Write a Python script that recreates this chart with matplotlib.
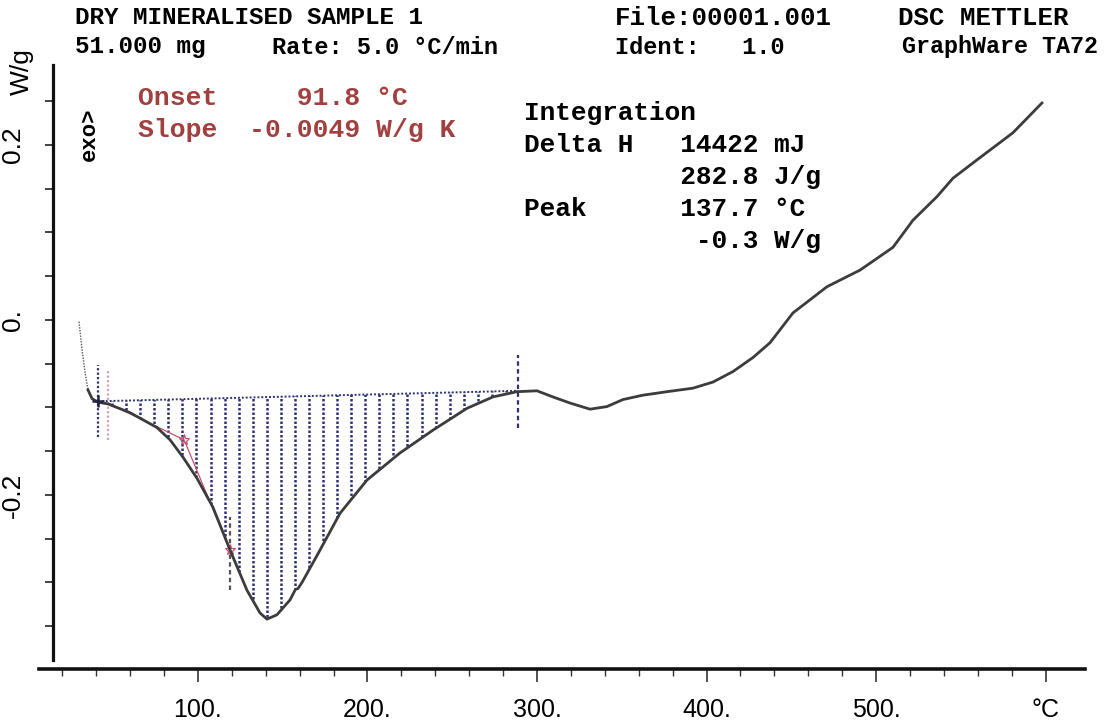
import numpy as np
import matplotlib
matplotlib.use("Agg")
import matplotlib.pyplot as plt
from matplotlib import font_manager
from matplotlib.patches import Polygon

# DSC trace: temperature (degC) vs heat flow (W/g)
lead_temp = [29.8, 31.6, 33.3, 35.1]
lead_flow = [-0.002, -0.034, -0.059, -0.080]

temp = [35.1, 37.5, 41.0, 46.9, 59.9, 75.8, 83.5, 91.2, 99.4, 108.8, 118.9,
        128.9, 136.6, 140.7, 146.6, 154.3, 157.5, 159.0, 161.4, 172.0, 183.8,
        199.7, 219.2, 238.6, 258.7, 274.0, 288.2, 300.0, 309.4, 319.5, 331.3,
        341.3, 350.7, 362.5, 376.7, 392.0, 403.8, 415.6, 427.4, 437.5, 451.0,
        471.1, 490.6, 510.0, 521.8, 536.0, 545.4, 559.6, 580.8, 597.9]
flow = [-0.080, -0.090, -0.094, -0.096, -0.106, -0.123, -0.137, -0.157, -0.181,
        -0.214, -0.263, -0.309, -0.335, -0.342, -0.337, -0.320, -0.308, -0.307,
        -0.300, -0.263, -0.221, -0.183, -0.152, -0.126, -0.101, -0.088, -0.082,
        -0.081, -0.088, -0.095, -0.102, -0.099, -0.091, -0.086, -0.082, -0.078,
        -0.071, -0.059, -0.043, -0.026, 0.008, 0.038, 0.057, 0.083, 0.114,
        0.141, 0.162, 0.183, 0.214, 0.248]

# integration baseline (start / end of peak)
base_temp = [41.0, 288.2]
base_flow = [-0.093, -0.081]

# onset construction (tangent points)
onset_temp = [46.9, 91.8, 118.9]
onset_flow = [-0.095, -0.137, -0.263]

# short vertical limit marks: (temp, bottom, top, colour, style)
limit_marks = [
    (41.0, -0.134, -0.051, "#2c3372", (0, (1, 1))),
    (46.9, -0.137, -0.057, "#d9a0b0", (0, (1, 1))),
    (118.9, -0.309, -0.225, "#555555", (0, (2, 1.5))),
    (288.8, -0.123, -0.040, "#2c3372", (0, (2, 1.5))),
]

xtick_pos = [100, 200, 300, 400, 500, 600]
xtick_labels = ["100.", "200.", "300.", "400.", "500.", "°C"]
ytick_pos = [-0.2, 0.0, 0.2]
ytick_labels = ["-0.2", "0.", "0.2"]

W, H = 1104, 725
NAVY = "#2c3372"
RED = "#a0413f"

names = {f.name for f in font_manager.fontManager.ttflist}
narrow = "Liberation Sans Narrow" if "Liberation Sans Narrow" in names else "Liberation Sans"
mono = "Liberation Mono"

fig = plt.figure(figsize=(W / 100, H / 100), dpi=100)
ax = fig.add_axes([39 / W, (H - 669) / H, (1085 - 39) / W, (669 - 57.5) / H])
ax.set_xlim(6.2, 623.3)
ax.set_ylim(-0.399, 0.30)

# hatched integration area
seg = [(t, f) for t, f in zip(temp, flow) if base_temp[0] <= t <= base_temp[1]]
poly_pts = seg + [(base_temp[1], base_flow[1]), (base_temp[0], base_flow[0])]
area = Polygon(poly_pts, closed=True, facecolor="none", edgecolor="none")
ax.add_patch(area)
hatch_x = np.arange(base_temp[0], base_temp[1], 8.3)
hl = ax.vlines(hatch_x, -0.36, -0.05, colors=NAVY, linestyles=(0, (1, 0.8)), linewidth=1.8)
hl.set_clip_path(area)
ax.plot(base_temp, base_flow, color=NAVY, linestyle=(0, (1, 1)), linewidth=1.4)

for t, y0, y1, c, ls in limit_marks:
    ax.plot([t, t], [y0, y1], color=c, linestyle=ls, linewidth=1.6)

ax.plot(onset_temp, onset_flow, color="#c85070", linewidth=0.9)
ax.plot(onset_temp[1:], onset_flow[1:], linestyle="none", marker="*",
        markersize=8, color="#c85070", markerfacecolor="none", markeredgewidth=0.9)

ax.plot(lead_temp, lead_flow, color="#555555", linestyle=(0, (1, 1)), linewidth=1.0)
ax.plot(temp, flow, color="#3c3c3c", linewidth=2.0)
ax.plot([base_temp[0]], [base_flow[0]], marker="+", markersize=9, color="#222244",
        markeredgewidth=1.8)

# axes styling
for s in ["top", "right"]:
    ax.spines[s].set_visible(False)
ax.spines["left"].set_position(("data", 14.5))
ax.spines["left"].set_bounds(-0.389, 0.291)
ax.spines["left"].set_linewidth(2.3)
ax.spines["bottom"].set_linewidth(2.6)
ax.spines["left"].set_color("#111111")
ax.spines["bottom"].set_color("#111111")

ax.set_xticks(xtick_pos)
ax.set_xticklabels(xtick_labels, family=narrow, fontsize=18)
ax.set_xticks(np.arange(20, 601, 20), minor=True)
ax.tick_params(axis="x", which="major", direction="out", length=9, width=1.2,
               pad=12, color="#333333")
ax.tick_params(axis="x", which="minor", direction="out", length=5, width=1.0,
               color="#333333")

ax.set_yticks(ytick_pos)
ax.set_yticklabels(ytick_labels, family="Liberation Sans", fontsize=19,
                   rotation=90, va="center")
ax.set_yticks(np.arange(-0.35, 0.26, 0.05), minor=True)
ax.tick_params(axis="y", which="both", direction="out", length=6, width=1.3,
               pad=14, color="#333333")

fig.text(22 / W, 1 - 72 / H, "W/g", rotation=90, ha="center", va="center",
         family="Liberation Sans", fontsize=19)
fig.text(89 / W, 1 - 134 / H, "exo>", rotation=90, ha="center", va="center",
         family=mono, fontweight="bold", fontsize=16)


def txt(x, y, s, size=17.5, color="black"):
    fig.text(x / W, 1 - y / H, s, ha="left", va="center", family=mono,
             fontweight="bold", fontsize=size, color=color)


# header
txt(75, 18, "DRY MINERALISED SAMPLE 1")
txt(75, 47, "51.000 mg")
txt(272, 47, "Rate: 5.0 °C/min", size=17)
txt(615, 18, "File:00001.001", size=18.5)
txt(615, 47, "Ident:   1.0", size=17)
txt(898, 18, "DSC METTLER", size=18.5)
txt(902, 47, "GraphWare TA72", size=16.8)

# onset annotation
txt(138, 98, "Onset     91.8 °C", size=19, color=RED)
txt(138, 130, "Slope  -0.0049 W/g K", size=19, color=RED)

# integration results
txt(524, 113, "Integration", size=18.8)
txt(524, 145, "Delta H   14422 mJ", size=18.8)
txt(524, 177, "          282.8 J/g", size=18.8)
txt(524, 209, "Peak      137.7 °C", size=18.8)
txt(524, 241, "           -0.3 W/g", size=18.8)

fig.savefig("out.png", dpi=100)
